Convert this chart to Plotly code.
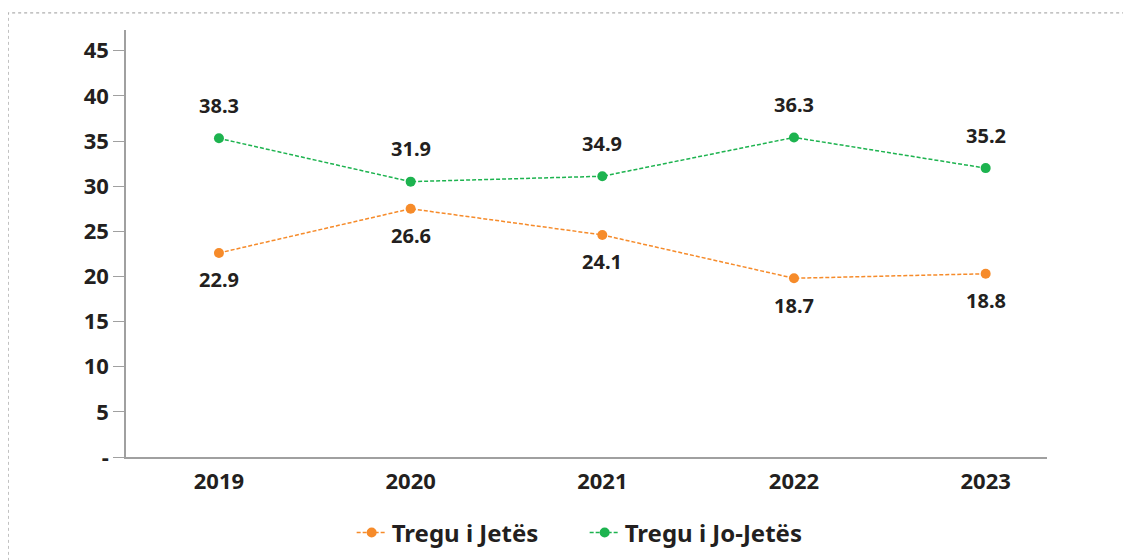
import plotly.graph_objects as go

years = ['2019', '2020', '2021', '2022', '2023']

# plotted positions (as drawn in the source chart)
jetes = [22.6, 27.5, 24.6, 19.8, 20.3]
jo_jetes = [35.3, 30.5, 31.1, 35.4, 32.0]

# value labels printed on the chart
jetes_labels = ['22.9', '26.6', '24.1', '18.7', '18.8']
jo_jetes_labels = ['38.3', '31.9', '34.9', '36.3', '35.2']

y_ticks = [0, 5, 10, 15, 20, 25, 30, 35, 40, 45]
y_ticktext = ['-', '5', '10', '15', '20', '25', '30', '35', '40', '45']

ORANGE = '#F68B2A'
GREEN = '#1DB34F'
TEXT = '#231F20'
FONT = 'Noto Sans'

fig = go.Figure()

fig.add_trace(go.Scatter(
    x=years, y=jetes, name='Tregu i Jetës',
    mode='lines+markers',
    line=dict(color=ORANGE, width=1.5, dash='4px,2px'),
    marker=dict(color=ORANGE, size=10)
))

fig.add_trace(go.Scatter(
    x=years, y=jo_jetes, name='Tregu i Jo-Jetës',
    mode='lines+markers',
    line=dict(color=GREEN, width=1.5, dash='4px,2px'),
    marker=dict(color=GREEN, size=10)
))

# value labels (category index used for x on a category axis)
for i, (v, t) in enumerate(zip(jo_jetes, jo_jetes_labels)):
    fig.add_annotation(x=i, y=v, text=t, showarrow=False, yshift=33,
                       font=dict(family=FONT, size=20, color=TEXT, weight='bold'))
for i, (v, t) in enumerate(zip(jetes, jetes_labels)):
    fig.add_annotation(x=i, y=v, text=t, showarrow=False, yshift=-27,
                       font=dict(family=FONT, size=20, color=TEXT, weight='bold'))

# dotted frame
fig.add_shape(type='rect', xref='paper', yref='paper',
              x0=-0.128, x1=1.2, y0=-0.4, y1=1.04,
              line=dict(color='#9A9A9A', width=1, dash='dot'))

# page body adds an 8px offset, so the figure is sized to fill the rest
fig.update_layout(
    width=1123, height=552,
    margin=dict(l=118, r=84, t=22, b=103, autoexpand=False),
    plot_bgcolor='white', paper_bgcolor='white',
    font=dict(family=FONT, size=22, color=TEXT, weight='bold'),
    showlegend=True,
    legend=dict(orientation='h', x=0.498, xanchor='center',
                yref='container', y=0.049, yanchor='middle',
                font=dict(family=FONT, size=24, color=TEXT, weight='bold'),
                itemwidth=30, entrywidth=188),
    xaxis=dict(
        type='category', range=[-0.485, 4.32],
        showline=True, linecolor='#A0A0A0', linewidth=1.5,
        showgrid=False, ticks='', ticklabelstandoff=4,
        zeroline=False
    ),
    yaxis=dict(
        range=[0, 47.3], tickvals=y_ticks, ticktext=y_ticktext,
        showline=True, linecolor='#A0A0A0', linewidth=1.5,
        ticks='outside', ticklen=11, tickcolor='#A0A0A0', tickwidth=1.2,
        showgrid=False, zeroline=False
    )
)

fig.write_html('out.html')
